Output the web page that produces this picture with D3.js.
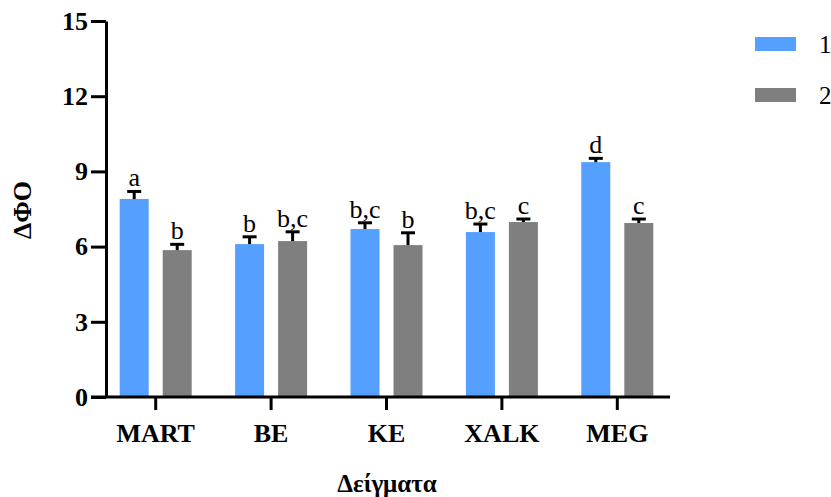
<!DOCTYPE html>
<html>
<head>
<meta charset="utf-8">
<script src="https://cdn.jsdelivr.net/npm/d3@7"></script>
<style>
  body { margin: 0; background: #fff; }
  svg { display: block; }
</style>
</head>
<body>
<div id="chart"></div>
<script>
// data
const categories = ["MART", "BE", "KE", "XALK", "MEG"];
const series = ["1", "2"];
const means1 = [7.9, 6.1, 6.7, 6.58, 9.37];
const means2 = [5.86, 6.22, 6.06, 6.98, 6.94];
const errs1 = [0.3, 0.29, 0.25, 0.32, 0.15];
const errs2 = [0.23, 0.37, 0.49, 0.12, 0.16];
const letters1 = ["a", "b", "b,c", "b,c", "d"];
const letters2 = ["b", "b,c", "b", "c", "c"];
const yTicks = [0, 3, 6, 9, 12, 15];
const colors = ["#559ffe", "#7f7f7f"];

const width = 831, height = 497;
const serif = '"Liberation Serif"';
const svg = d3.select("#chart").append("svg")
    .attr("width", width)
    .attr("height", height);

const x = d3.scaleBand().domain(categories).range([98, 675]);
const xSub = d3.scaleBand().domain(series).range([-36, 36]).paddingInner(0.326);
const y = d3.scaleLinear().domain([0, 15]).range([397, 21]);
const color = d3.scaleOrdinal().domain(series).range(colors);

const rows = [];
categories.forEach((c, i) => {
    rows.push({ cat: c, s: "1", v: means1[i], e: errs1[i], t: letters1[i] });
    rows.push({ cat: c, s: "2", v: means2[i], e: errs2[i], t: letters2[i] });
});
const bx = d => x(d.cat) + x.bandwidth() / 2 + xSub(d.s);
const bw = xSub.bandwidth();

// bars
svg.append("g").selectAll("rect").data(rows).join("rect")
    .attr("x", bx)
    .attr("y", d => y(d.v))
    .attr("width", bw)
    .attr("height", d => y(0) - y(d.v))
    .attr("fill", d => color(d.s));

// error bars (upper only)
const eg = svg.append("g").attr("stroke", "#000").attr("stroke-width", 3);
eg.selectAll("line.v").data(rows).join("line").attr("class", "v")
    .attr("x1", d => bx(d) + bw / 2).attr("x2", d => bx(d) + bw / 2)
    .attr("y1", d => y(d.v)).attr("y2", d => y(d.v + d.e));
eg.selectAll("line.cap").data(rows).join("line").attr("class", "cap")
    .attr("x1", d => bx(d) + bw / 2 - 7).attr("x2", d => bx(d) + bw / 2 + 7)
    .attr("y1", d => y(d.v + d.e)).attr("y2", d => y(d.v + d.e));

// significance letters
svg.append("g").selectAll("text").data(rows).join("text")
    .attr("x", d => bx(d) + bw / 2)
    .attr("y", d => y(d.v + d.e) - 5)
    .attr("text-anchor", "middle")
    .attr("fill", "#000")
    .attr("font-size", 26)
    .style("font-family", serif)
    .text(d => d.t);

// y axis
const yAxis = svg.append("g")
    .attr("transform", "translate(106,0)")
    .call(d3.axisLeft(y).tickValues(yTicks).tickSize(15).tickSizeOuter(0).tickPadding(3));
yAxis.select(".domain").attr("stroke-width", 3);
yAxis.selectAll(".tick line").attr("stroke-width", 3);
yAxis.selectAll(".tick text")
    .attr("fill", "#000")
    .attr("font-size", 26)
    .attr("font-weight", "bold")
    .style("font-family", serif);

// x axis
const xAxis = svg.append("g")
    .attr("transform", `translate(0,${y(0)})`)
    .call(d3.axisBottom(x).tickSize(13).tickSizeOuter(0).tickPadding(14));
xAxis.select(".domain").remove();
xAxis.append("line").attr("x1", 91).attr("x2", 670).attr("stroke", "#000").attr("stroke-width", 3);
xAxis.selectAll(".tick line").attr("stroke-width", 3);
xAxis.selectAll(".tick text")
    .attr("fill", "#000")
    .attr("font-size", 26)
    .attr("font-weight", "bold")
    .style("font-family", serif);

// axis titles
svg.append("text")
    .attr("transform", "translate(31,210) rotate(-90)")
    .attr("text-anchor", "middle")
    .attr("font-size", 26)
    .attr("font-weight", "bold")
    .style("font-family", serif)
    .text("ΔΦΟ");
svg.append("text")
    .attr("x", 387).attr("y", 492)
    .attr("text-anchor", "middle")
    .attr("font-size", 25)
    .attr("font-weight", "bold")
    .style("font-family", serif)
    .text("Δείγματα");

// legend
const lg = svg.append("g").selectAll("g").data(series).join("g")
    .attr("transform", (d, i) => `translate(755,${37 + i * 51})`);
lg.append("rect").attr("width", 41).attr("height", 14).attr("fill", d => color(d));
lg.append("text").attr("x", 64).attr("y", 16)
    .attr("font-size", 25)
    .style("font-family", serif)
    .text(d => d);
</script>
</body>
</html>
